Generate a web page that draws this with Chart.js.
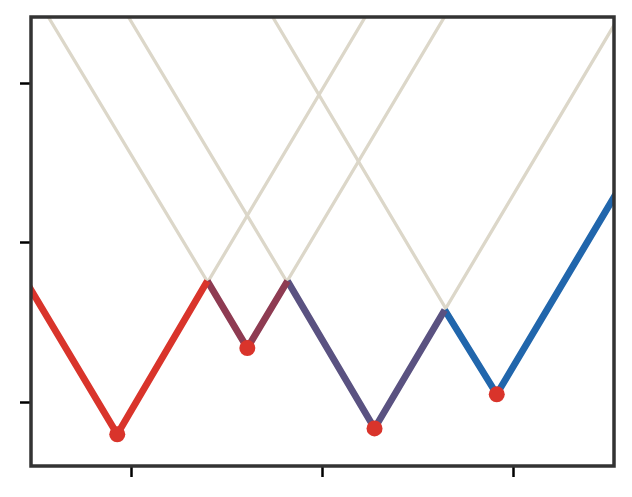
<!DOCTYPE html>
<html>
<head>
<meta charset="utf-8">
<script src="https://cdn.jsdelivr.net/npm/chart.js@4"></script>
<style>
  html, body { margin: 0; padding: 0; background: #fff; }
  #wrap { width: 632px; height: 497px; }
</style>
</head>
<body>
<div id="wrap"><canvas id="myChart"></canvas></div>
<script>
// tick positions (no labels shown)
var xTicks = [1, 2, 3];
var yTicks = [0, 1, 2];

// the four V shaped curves (left end, vertex, right end)
var curveA = [{x: 0.30, y: 1.06}, {x: 0.927, y: -0.201}, {x: 2.225, y: 2.421}];
var curveB = [{x: 0.565, y: 2.421}, {x: 1.607, y: 0.340}, {x: 2.639, y: 2.421}];
var curveC = [{x: 0.984, y: 2.421}, {x: 2.272, y: -0.164}, {x: 3.60, y: 2.52}];
var curveD = [{x: 1.738, y: 2.421}, {x: 2.911, y: 0.050}, {x: 3.60, y: 1.44}];

// lower envelope pieces
var envA = [{x: 0.30, y: 1.06}, {x: 0.927, y: -0.201}, {x: 1.398, y: 0.761}];
var envB = [{x: 1.398, y: 0.761}, {x: 1.607, y: 0.340}, {x: 1.817, y: 0.761}];
var envC = [{x: 1.817, y: 0.761}, {x: 2.272, y: -0.164}, {x: 2.639, y: 0.579}];
var envD = [{x: 2.639, y: 0.579}, {x: 2.911, y: 0.050}, {x: 3.60, y: 1.44}];

// minima
var minima = [
  {x: 0.927, y: -0.201},
  {x: 1.607, y: 0.340},
  {x: 2.272, y: -0.164},
  {x: 2.911, y: 0.050}
];

var beige = '#dcd7c9';
var envColors = ['#d9342b', '#8e3b52', '#5a5281', '#2166ac'];

function curve(d) {
  return {data: d, borderColor: beige, borderWidth: 3.3, pointRadius: 0, order: 3};
}
function env(d, c) {
  return {data: d, borderColor: c, borderWidth: 6.8, pointRadius: 0, order: 2};
}

var frame = {
  id: 'frame',
  afterDraw: function(chart) {
    var a = chart.chartArea, c = chart.ctx;
    c.save();
    c.strokeStyle = '#333333';
    c.lineWidth = 3.5;
    c.strokeRect(a.left, a.top, a.right - a.left, a.bottom - a.top);
    c.restore();
  }
};

var ctx = document.getElementById("myChart");

var myChart = new Chart(ctx, {
    type: 'line',
    data: {
        datasets: [
            curve(curveA), curve(curveB), curve(curveC), curve(curveD),
            env(envA, envColors[0]), env(envB, envColors[1]),
            env(envC, envColors[2]), env(envD, envColors[3]),
            {
                data: minima,
                showLine: false,
                pointRadius: 8,
                pointBackgroundColor: '#d9342b',
                pointBorderWidth: 0,
                order: 1
            }
        ]
    },
    options: {
        responsive: true,
        maintainAspectRatio: false,
        animation: false,
        layout: {
            padding: {left: 20, right: 18, top: 17, bottom: 20}
        },
        plugins: {
            legend: {display: false},
            tooltip: {enabled: false}
        },
        scales: {
            x: {
                type: 'linear',
                min: 0.476,
                max: 3.524,
                afterBuildTicks: function(s) { s.ticks = xTicks.map(function(v){ return {value: v}; }); },
                ticks: {display: false},
                grid: {drawOnChartArea: false, tickLength: 11, tickColor: '#000', tickWidth: 2.5},
                border: {display: false}
            },
            y: {
                type: 'linear',
                min: -0.40,
                max: 2.418,
                afterBuildTicks: function(s) { s.ticks = yTicks.map(function(v){ return {value: v}; }); },
                ticks: {display: false},
                grid: {drawOnChartArea: false, tickLength: 11, tickColor: '#000', tickWidth: 2.5},
                border: {display: false}
            }
        }
    },
    plugins: [frame]
});
</script>
</body>
</html>
